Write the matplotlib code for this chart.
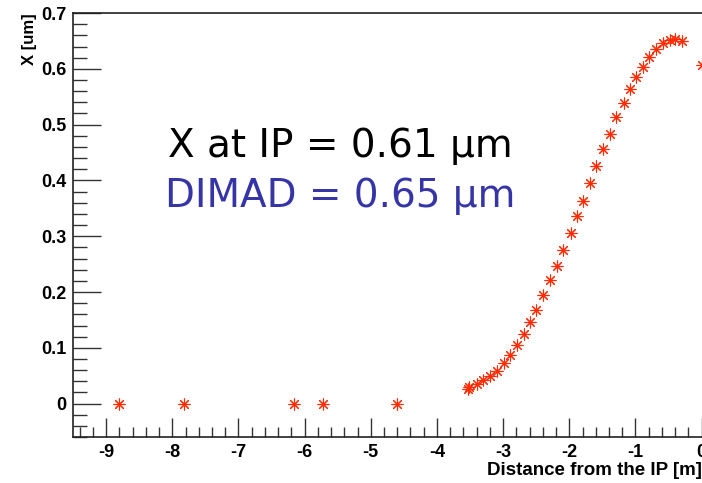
import matplotlib
matplotlib.use("Agg")
import matplotlib.pyplot as plt
from matplotlib.ticker import MultipleLocator
import numpy as np

# drift region points (all zero)
x_flat = [-8.8, -7.82, -6.16, -5.72, -4.6]
y_flat = [0, 0, 0, 0, 0]

# focusing region
x_curve = [-3.53, -3.51, -3.40, -3.31, -3.20, -3.09, -2.99, -2.89, -2.79, -2.68,
           -2.59, -2.50, -2.39, -2.29, -2.19, -2.09, -1.98, -1.88, -1.79, -1.69,
           -1.59, -1.49, -1.39, -1.29, -1.18, -1.09, -0.99, -0.89, -0.79, -0.69,
           -0.59, -0.48, -0.40, -0.29, 0.0]
y_curve = [0.026, 0.029, 0.036, 0.043, 0.049, 0.059, 0.073, 0.087, 0.105, 0.124,
           0.146, 0.168, 0.194, 0.221, 0.247, 0.275, 0.306, 0.337, 0.364, 0.396,
           0.426, 0.456, 0.484, 0.513, 0.539, 0.564, 0.585, 0.604, 0.622, 0.635,
           0.646, 0.652, 0.653, 0.649, 0.607]

x_ip = 0.61
x_dimad = 0.65

fig = plt.figure(figsize=(7.02, 4.83), dpi=100)
ax = fig.add_axes([0.104, 0.095, 0.8955, 0.878])

star = (8, 2, 0)
ax.plot(x_flat + x_curve, y_flat + y_curve, linestyle="none", marker=star,
        markersize=8.5, markeredgewidth=0.8, color="#ff2a00", clip_on=False)

ax.set_xlim(-9.5, 0)
ax.set_ylim(-0.06, 0.7)
ax.xaxis.set_minor_locator(MultipleLocator(0.2))
ax.yaxis.set_minor_locator(MultipleLocator(0.02))
ax.set_xticks(np.arange(-9, 1, 1))
ax.set_xticklabels([str(v) for v in range(-9, 1)])
ax.set_yticks(np.arange(0, 0.71, 0.1))
ax.set_yticklabels(["0"] + ["%.1f" % v for v in np.arange(0.1, 0.71, 0.1)])

ax.tick_params(which="major", direction="in", length=14, width=1, color="#333333",
               labelsize=13, pad=5)
ax.tick_params(axis="y", which="major", length=20)
ax.tick_params(which="minor", direction="in", length=7, width=1, color="#333333")
ax.tick_params(axis="y", which="minor", length=10)
ax.tick_params(top=False, right=False, which="both")
for lab in ax.get_xticklabels() + ax.get_yticklabels():
    lab.set_fontweight("bold")
    lab.set_family("Liberation Sans")
ax.spines["right"].set_visible(False)
for s in ["left", "bottom", "top"]:
    ax.spines[s].set_color("#222222")
    ax.spines[s].set_linewidth(1.2)

ax.set_xlabel("Distance from the IP [m]", fontsize=13.5, fontweight="bold",
              family="Liberation Sans", loc="right", labelpad=1)
ax.set_ylabel("X [um]", fontsize=12, fontweight="bold",
              family="Liberation Sans", loc="top", labelpad=3)

fig.text(0.239, 0.675, "X at IP = %.2f µm" % x_ip, fontsize=28, color="black",
         family="DejaVu Sans")
fig.text(0.235, 0.572, "DIMAD = %.2f µm" % x_dimad, fontsize=28, color="#3535a8",
         family="DejaVu Sans")

fig.savefig("out.png", dpi=100)
